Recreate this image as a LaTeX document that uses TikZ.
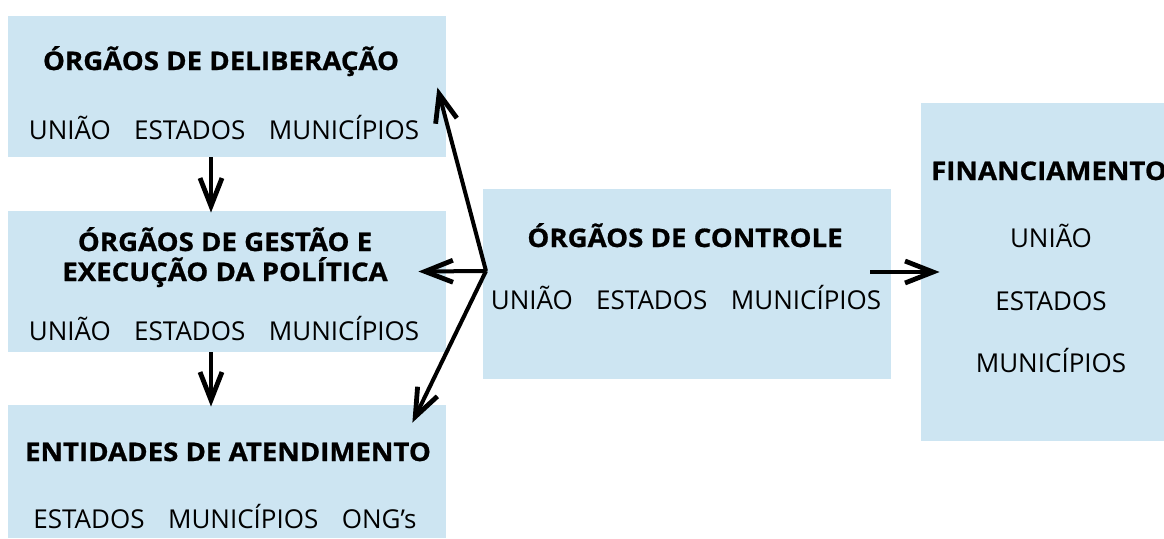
\documentclass[tikz,border=0pt]{standalone}
\usepackage{fontspec}
\setmainfont{Open Sans}
\newfontfamily\titfont[FakeStretch=1.08,BoldFeatures={FakeBold=0.8}]{Open Sans}
\usetikzlibrary{arrows.meta}
\usetikzlibrary{positioning,fit}
\definecolor{azulclaro}{RGB}{205,229,242}
\tikzstyle{caixa}=[rectangle,fill=azulclaro,draw=none,inner sep=0pt]
\tikzstyle{titulo}=[anchor=base,inner sep=0pt,align=center,
                font=\titfont\fontsize{12.8}{15}\selectfont\bfseries]
\tikzstyle{esfera}=[anchor=base,inner sep=0pt,font=\fontsize{13}{15}\selectfont]
\tikzstyle{seta}=[line width=2pt,-{Straight Barb[length=14pt,width=11pt,line width=2.4pt]}]
\newcommand{\esp}{\hspace{0.9em}}

\begin{document}
\begin{tikzpicture}[x=0.5pt,y=-0.5pt]
\useasboundingbox (0,0) rectangle (1164,538);
% caixas
\node[caixa,fit={(8,16) (446,157)}] (delib) {};
\node[caixa,fit={(8,211) (446,352)}] (gestao) {};
\node[caixa,fit={(8,405) (446,538)}] (entid) {};
\node[caixa,fit={(483,189) (891,379)}] (controle) {};
\node[caixa,fit={(921,103) (1164,441)}] (financ) {};
% textos
\node[titulo] (tdelib) at (221,70) {ÓRGÃOS DE DELIBERAÇÃO};
\node[esfera] (edelib) at (224,139) {UNIÃO\esp ESTADOS\esp MUNICÍPIOS};
\node[titulo] (tgestao) at (225,281) {ÓRGÃOS DE GESTÃO E\\EXECUÇÃO DA POLÍTICA};
\node[esfera] (egestao) at (224,340) {UNIÃO\esp ESTADOS\esp MUNICÍPIOS};
\node[titulo] (tentid) at (228,461) {ENTIDADES DE ATENDIMENTO};
\node[esfera] (eentid) at (225,528) {ESTADOS\esp MUNICÍPIOS\esp ONG’s};
\node[titulo] (tcontrole) at (685,247) {ÓRGÃOS DE CONTROLE};
\node[esfera] (econtrole) at (686,309) {UNIÃO\esp ESTADOS\esp MUNICÍPIOS};
\node[titulo] (tfinanc) at (1049,180) {FINANCIAMENTO};
\node[esfera] (uniao) at (1051,247) {UNIÃO};
\node[esfera] (estados) at (1051,310) {ESTADOS};
\node[esfera] (munic) at (1051,372) {MUNICÍPIOS};
% setas
\coordinate (centro) at (486,271);
\draw[seta] ([xshift=-8pt]delib.south) -- ([xshift=-8pt,yshift=-1pt]gestao.north);
\draw[seta] ([xshift=-8pt]gestao.south) -- ([xshift=-8pt,yshift=-1pt]entid.north);
\draw[seta,line join=round] (centro) -- ([xshift=-4.5pt,yshift=-0.5pt]delib.east);
\draw[seta,line join=round] (centro) -- ([xshift=-14pt,yshift=5pt]gestao.east);
\draw[seta,line join=round] (centro) -- ([xshift=-17pt,yshift=-9pt]entid.north east);
\draw[seta] ([xshift=-10.5pt,yshift=6pt]controle.east) -- ([xshift=9.5pt]financ.west);
\end{tikzpicture}
\end{document}
